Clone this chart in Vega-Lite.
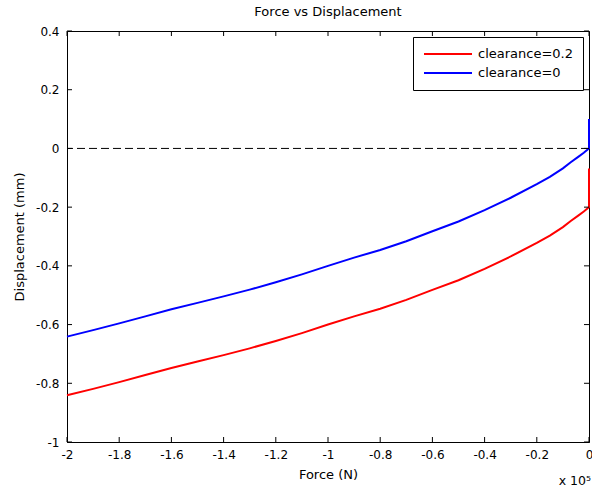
{
  "$schema": "https://vega.github.io/schema/vega-lite/v6.json",
  "width": 522,
  "height": 411,
  "autosize": {"type": "none"},
  "padding": {"left": 67, "top": 31, "right": 3, "bottom": 50},
  "title": {"text": "Force vs Displacement", "font": "DejaVu Sans", "fontSize": 13, "fontWeight": "normal", "color": "black", "anchor": "middle", "offset": 6},
  "config": {
    "view": {"stroke": "black", "strokeWidth": 1},
    "font": "DejaVu Sans",
    "axis": {
      "domainColor": "black", "labelColor": "black", "titleColor": "black",
      "labelFont": "DejaVu Sans", "labelFontSize": 12, "titleFont": "DejaVu Sans", "titleFontSize": 13,
      "titleFontWeight": "normal", "grid": false, "ticks": false, "labelFlush": false, "labelOverlap": false
    }
  },
  "resolve": {"axis": {"x": "independent", "y": "independent"}},
  "datasets": {
    "xticks": [{"v": -2}, {"v": -1.8}, {"v": -1.6}, {"v": -1.4}, {"v": -1.2}, {"v": -1}, {"v": -0.8}, {"v": -0.6}, {"v": -0.4}, {"v": -0.2}, {"v": 0}],
    "yticks": [{"v": -1}, {"v": -0.8}, {"v": -0.6}, {"v": -0.4}, {"v": -0.2}, {"v": 0}, {"v": 0.2}, {"v": 0.4}],
    "curves": [
      {"series": "clearance=0.2", "i": 1, "force": -2.0, "displacement": -0.841},
      {"series": "clearance=0.2", "i": 2, "force": -1.9, "displacement": -0.819},
      {"series": "clearance=0.2", "i": 3, "force": -1.8, "displacement": -0.796},
      {"series": "clearance=0.2", "i": 4, "force": -1.7, "displacement": -0.772},
      {"series": "clearance=0.2", "i": 5, "force": -1.6, "displacement": -0.748},
      {"series": "clearance=0.2", "i": 6, "force": -1.5, "displacement": -0.726},
      {"series": "clearance=0.2", "i": 7, "force": -1.4, "displacement": -0.704},
      {"series": "clearance=0.2", "i": 8, "force": -1.3, "displacement": -0.681},
      {"series": "clearance=0.2", "i": 9, "force": -1.2, "displacement": -0.656},
      {"series": "clearance=0.2", "i": 10, "force": -1.1, "displacement": -0.629},
      {"series": "clearance=0.2", "i": 11, "force": -1.0, "displacement": -0.600},
      {"series": "clearance=0.2", "i": 12, "force": -0.9, "displacement": -0.572},
      {"series": "clearance=0.2", "i": 13, "force": -0.8, "displacement": -0.546},
      {"series": "clearance=0.2", "i": 14, "force": -0.7, "displacement": -0.516},
      {"series": "clearance=0.2", "i": 15, "force": -0.6, "displacement": -0.482},
      {"series": "clearance=0.2", "i": 16, "force": -0.5, "displacement": -0.449},
      {"series": "clearance=0.2", "i": 17, "force": -0.4, "displacement": -0.410},
      {"series": "clearance=0.2", "i": 18, "force": -0.3, "displacement": -0.368},
      {"series": "clearance=0.2", "i": 19, "force": -0.2, "displacement": -0.322},
      {"series": "clearance=0.2", "i": 20, "force": -0.15, "displacement": -0.297},
      {"series": "clearance=0.2", "i": 21, "force": -0.1, "displacement": -0.268},
      {"series": "clearance=0.2", "i": 22, "force": -0.07, "displacement": -0.247},
      {"series": "clearance=0.2", "i": 23, "force": -0.04, "displacement": -0.228},
      {"series": "clearance=0.2", "i": 24, "force": -0.02, "displacement": -0.215},
      {"series": "clearance=0.2", "i": 25, "force": -0.005, "displacement": -0.204},
      {"series": "clearance=0.2", "i": 26, "force": 0.0, "displacement": -0.200},
      {"series": "clearance=0.2", "i": 27, "force": 0.0, "displacement": -0.068},
      {"series": "clearance=0", "i": 1, "force": -2.0, "displacement": -0.641},
      {"series": "clearance=0", "i": 2, "force": -1.9, "displacement": -0.619},
      {"series": "clearance=0", "i": 3, "force": -1.8, "displacement": -0.596},
      {"series": "clearance=0", "i": 4, "force": -1.7, "displacement": -0.572},
      {"series": "clearance=0", "i": 5, "force": -1.6, "displacement": -0.548},
      {"series": "clearance=0", "i": 6, "force": -1.5, "displacement": -0.526},
      {"series": "clearance=0", "i": 7, "force": -1.4, "displacement": -0.504},
      {"series": "clearance=0", "i": 8, "force": -1.3, "displacement": -0.481},
      {"series": "clearance=0", "i": 9, "force": -1.2, "displacement": -0.456},
      {"series": "clearance=0", "i": 10, "force": -1.1, "displacement": -0.429},
      {"series": "clearance=0", "i": 11, "force": -1.0, "displacement": -0.400},
      {"series": "clearance=0", "i": 12, "force": -0.9, "displacement": -0.372},
      {"series": "clearance=0", "i": 13, "force": -0.8, "displacement": -0.346},
      {"series": "clearance=0", "i": 14, "force": -0.7, "displacement": -0.316},
      {"series": "clearance=0", "i": 15, "force": -0.6, "displacement": -0.282},
      {"series": "clearance=0", "i": 16, "force": -0.5, "displacement": -0.249},
      {"series": "clearance=0", "i": 17, "force": -0.4, "displacement": -0.210},
      {"series": "clearance=0", "i": 18, "force": -0.3, "displacement": -0.168},
      {"series": "clearance=0", "i": 19, "force": -0.2, "displacement": -0.122},
      {"series": "clearance=0", "i": 20, "force": -0.15, "displacement": -0.097},
      {"series": "clearance=0", "i": 21, "force": -0.1, "displacement": -0.068},
      {"series": "clearance=0", "i": 22, "force": -0.07, "displacement": -0.047},
      {"series": "clearance=0", "i": 23, "force": -0.04, "displacement": -0.028},
      {"series": "clearance=0", "i": 24, "force": -0.02, "displacement": -0.015},
      {"series": "clearance=0", "i": 25, "force": -0.005, "displacement": -0.004},
      {"series": "clearance=0", "i": 26, "force": 0.0, "displacement": 0.0},
      {"series": "clearance=0", "i": 27, "force": 0.0, "displacement": 0.10}
    ]
  },
  "layer": [
    {
      "data": {"values": [{}]},
      "mark": {"type": "rule", "color": "black", "strokeDash": [8, 4], "strokeWidth": 1},
      "encoding": {
        "y": {"datum": 0, "type": "quantitative", "axis": null}
      }
    },
    {
      "data": {"name": "curves"},
      "mark": {"type": "line", "strokeWidth": 2},
      "encoding": {
        "x": {
          "field": "force", "type": "quantitative",
          "scale": {"domain": [-2, 0], "nice": false, "zero": false},
          "axis": {
            "orient": "bottom",
            "values": [-2, -1.8, -1.6, -1.4, -1.2, -1, -0.8, -0.6, -0.4, -0.2, 0],
            "labelExpr": "replace(format(datum.value, '~g'), '−', '-')",
            "labelPadding": 7, "title": "Force (N)", "titlePadding": 8
          }
        },
        "y": {
          "field": "displacement", "type": "quantitative",
          "scale": {"domain": [-1, 0.4], "nice": false, "zero": false},
          "axis": {
            "orient": "left",
            "values": [-1, -0.8, -0.6, -0.4, -0.2, 0, 0.2, 0.4],
            "labelExpr": "replace(format(datum.value, '~g'), '−', '-')",
            "labelPadding": 8, "title": "Displacement (mm)", "titlePadding": 9
          }
        },
        "color": {
          "field": "series", "type": "nominal",
          "scale": {"domain": ["clearance=0.2", "clearance=0"], "range": ["#ff0000", "#0000ff"]},
          "legend": {
            "orient": "none", "legendX": 346, "legendY": 6, "title": null,
            "symbolType": "M-1,0H7", "symbolSize": 144, "symbolStrokeWidth": 2,
            "labelFont": "DejaVu Sans", "labelFontSize": 13, "labelColor": "black", "labelOffset": 41,
            "strokeColor": "black", "fillColor": "white", "padding": 10, "rowPadding": 5
          }
        },
        "order": {"field": "i", "type": "quantitative"}
      }
    },
    {
      "data": {"name": "xticks"},
      "mark": {"type": "point", "shape": "M0,0V-1", "size": 100, "filled": false, "color": "black", "strokeWidth": 1, "opacity": 1},
      "encoding": {
        "x": {"field": "v", "type": "quantitative", "axis": null},
        "y": {"datum": -1, "type": "quantitative", "axis": null}
      }
    },
    {
      "data": {"name": "xticks"},
      "mark": {"type": "point", "shape": "M0,0V1", "size": 100, "filled": false, "color": "black", "strokeWidth": 1, "opacity": 1},
      "encoding": {
        "x": {"field": "v", "type": "quantitative", "axis": null},
        "y": {"datum": 0.4, "type": "quantitative", "axis": null}
      }
    },
    {
      "data": {"name": "yticks"},
      "mark": {"type": "point", "shape": "M0,0H1", "size": 100, "filled": false, "color": "black", "strokeWidth": 1, "opacity": 1},
      "encoding": {
        "y": {"field": "v", "type": "quantitative", "axis": null},
        "x": {"datum": -2, "type": "quantitative", "axis": null}
      }
    },
    {
      "data": {"name": "yticks"},
      "mark": {"type": "point", "shape": "M0,0H-1", "size": 100, "filled": false, "color": "black", "strokeWidth": 1, "opacity": 1},
      "encoding": {
        "y": {"field": "v", "type": "quantitative", "axis": null},
        "x": {"datum": 0, "type": "quantitative", "axis": null}
      }
    },
    {
      "data": {"values": [{}]},
      "mark": {"type": "text", "text": "x 10⁵", "align": "right", "baseline": "alphabetic", "dx": 2, "dy": 43, "fontSize": 12.5, "font": "DejaVu Sans", "color": "black"},
      "encoding": {
        "x": {"datum": 0, "type": "quantitative", "axis": null},
        "y": {"datum": -1, "type": "quantitative", "axis": null}
      }
    }
  ]
}
